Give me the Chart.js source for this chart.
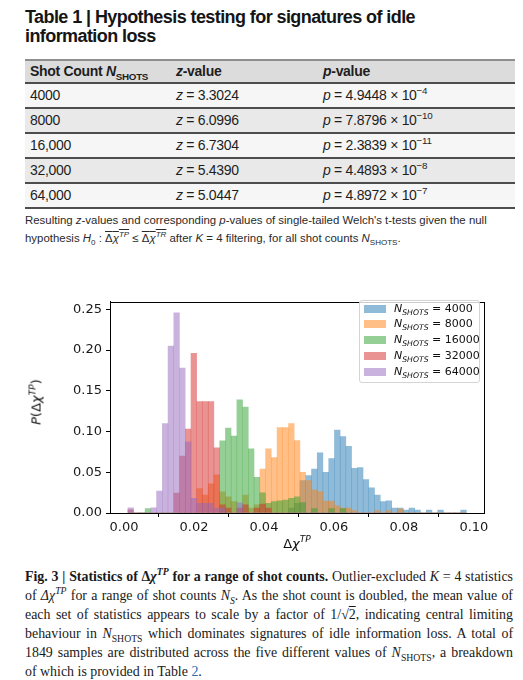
<!DOCTYPE html>
<html>
<head>
<meta charset="utf-8">
<script src="https://cdn.jsdelivr.net/npm/chart.js@4.4.1/dist/chart.umd.min.js"></script>
<style>
html,body{margin:0;padding:0;background:#fff;}
body{width:523px;height:680px;position:relative;overflow:hidden;font-family:"Liberation Sans",Arial,sans-serif;color:#1a1a1a;}
.abs{position:absolute;}
sub,sup{line-height:0;font-size:70%;}
#title{left:25px;top:8px;font-weight:bold;line-height:18.6px;color:#151515;font-size:18px;white-space:nowrap;}
#tbl{left:25px;top:59px;width:490px;height:150px;font-size:14px;letter-spacing:-0.3px;color:#1e1e1e;}
#tbl .bg{position:absolute;left:0;width:490px;}
#tbl .ln{position:absolute;left:0;width:490px;height:1.5px;background:#4d4d4d;}
#tbl .cell{position:absolute;white-space:nowrap;}
#foot{left:25px;top:211px;line-height:18px;color:#2a2a2a;white-space:nowrap;}
#chartBox{left:0;top:290px;width:523px;height:260px;}
#legend{left:359px;top:300px;width:119px;height:81px;border:1px solid #d4d4d4;border-radius:3px;background:rgba(255,255,255,0.8);font-family:"DejaVu Sans";font-size:11px;color:#111;}
#legend .it{position:absolute;left:0;height:16px;width:119px;}
#legend .sw{position:absolute;left:4px;top:4px;width:22px;height:8px;}
#legend .tx{position:absolute;left:34px;top:0;line-height:16px;white-space:nowrap;}
.mt{font-family:"DejaVu Sans";font-size:13px;color:#111;white-space:nowrap;}
#caption{left:25px;top:567px;width:488px;font-family:"Liberation Serif","Times New Roman",serif;color:#1a1a1a;}
#caption .cl{line-height:19px;height:19px;text-align:justify;text-align-last:justify;}
#caption .cl.last{text-align-last:left;}
.ov{text-decoration:overline;}
</style>
</head>
<body>
<div id="title" class="abs">
  <div><span id="t1">Table 1 | Hypothesis testing for signatures of idle</span></div>
  <div><span id="t2">information loss</span></div>
</div>
<div id="tbl" class="abs"></div>
<div id="foot" class="abs">
  <div><span id="f1">Resulting <i>z</i>-values and corresponding <i>p</i>-values of single-tailed Welch's t-tests given the null</span></div>
  <div><span id="f2">hypothesis <i>H</i><sub>0</sub> : <span class="ov">Δ<i>χ</i><sup><i>TP</i></sup></span> ≤ <span class="ov">Δ<i>χ</i><sup><i>TR</i></sup></span> after <i>K</i> = 4 filtering, for all shot counts <i>N</i><sub>SHOTS</sub>.</span></div>
</div>
<div id="chartBox" class="abs"><canvas id="c"></canvas></div>
<div id="legend" class="abs"></div>
<div id="ytitle" class="abs mt" style="left:36px;top:402px;transform:translate(-50%,-50%) rotate(-90deg);"><i>P</i>(Δ<i>χ</i><sup><i>TP</i></sup>)</div>
<div id="xtitle" class="abs mt" style="left:297px;top:543px;transform:translate(-50%,-50%);">Δ<i>χ</i><sup><i>TP</i></sup></div>
<div id="caption" class="abs">
  <div class="cl"><b>Fig. 3 | Statistics of Δ<i>χ</i><sup><i>TP</i></sup> for a range of shot counts.</b> Outlier-excluded <i>K</i> = 4 statistics</div>
  <div class="cl">of <i>Δχ</i><sup><i>TP</i></sup> for a range of shot counts <i>N<sub>S</sub></i>. As the shot count is doubled, the mean value of</div>
  <div class="cl">each set of statistics appears to scale by a factor of 1/√<span class="ov">2</span>, indicating central limiting</div>
  <div class="cl">behaviour in <i>N</i><sub>SHOTS</sub> which dominates signatures of idle information loss. A total of</div>
  <div class="cl">1849 samples are distributed across the five different values of <i>N</i><sub>SHOTS</sub>, a breakdown</div>
  <div class="cl last">of which is provided in Table <span style="color:#2a6db0">2</span>.</div>
</div>
<script>
// ---------------- Table data ----------------
const shotLabels = ['4000', '8000', '16,000', '32,000', '64,000'];
const zValues = ['3.3024', '6.0996', '6.7304', '5.4390', '5.0447'];
const pMantissas = ['4.9448', '7.8796', '2.3839', '4.4893', '4.8972'];
const pExponents = ['−4', '−10', '−11', '−8', '−7'];

// ---------------- Histogram data ----------------
const shotCounts = ['4000', '8000', '16000', '32000', '64000'];
const binStart = 0.0011;
const binWidth = 0.00164;
const p4000 = [
  0,0,0,0,0,0,0,0,0,0,
  0,0,0,0,0,0,0,0,0,0,
  0,0,0,0,0,0,0,0,0.006,0.012,
  0.040,0.046,0.054,0.074,0.050,0.067,0.102,0.094,0.082,0.055,
  0.056,0.041,0.031,0.022,0.014,0.015,0.006,0.006,0.0036,0.006,
  0.0036,0,0.0036,0,0.0036,0,0,0,0.0036
];
const p8000 = [
  0,0,0,0,0,0,0,0,0,0,
  0,0,0.030,0.022,0.036,0.047,0.026,0.020,0.014,0,
  0.022,0.006,0.010,0.054,0.079,0.068,0.105,0.105,0.110,0.089,
  0.050,0.040,0.0285,0.0265,0.0146,0.0146,0.009,0.006,0.006,0.003,
  0,0,0,0.003,0,0.003,0,0.005,0,0,
  0,0,0,0,0,0,0,0,0
];
const p16000 = [
  0,0,0,0.0055,0,0,0,0,0,0,
  0,0,0,0,0,0,0.0887,0.1045,0.0946,0.139,
  0.130,0.079,0.044,0.025,0.012,0.014,0.015,0.016,0.018,0.020,
  0.013,0,0.0055,0,0,0.0055,0,0.0055,0,0,
  0,0,0,0,0,0,0,0,0,0,
  0,0,0,0,0,0,0,0,0
];
const p32000 = [
  0.004,0,0,0,0,0,0,0,0.0245,0.070,
  0.103,0.196,0.137,0.137,0.137,0.080,0.010,0.006,0,0.006,
  0.010,0,0.006,0.011,0.006,0,0,0,0,0,
  0,0,0,0,0,0,0,0,0,0,
  0,0,0,0,0,0,0,0,0,0,
  0,0,0,0,0,0,0,0,0
];
const p64000 = [
  0.0063,0,0,0,0.0063,0.027,0.110,0.205,0.246,0.178,
  0.0875,0.018,0.012,0.012,0.012,0.006,0.006,0,0,0.0126,
  0,0,0,0,0,0,0,0,0,0,
  0,0,0,0,0,0,0,0,0,0,
  0,0,0,0,0,0,0,0,0,0,
  0,0,0,0,0,0,0,0,0
];
const xTickValues = [0.00, 0.02, 0.04, 0.06, 0.08, 0.10];
const yTickValues = [0.00, 0.05, 0.10, 0.15, 0.20, 0.25];

const seriesValues = [p4000, p8000, p16000, p32000, p64000];
const seriesColors = ['rgba(31,119,180,0.5)', 'rgba(255,127,14,0.5)', 'rgba(44,160,44,0.5)', 'rgba(214,39,40,0.5)', 'rgba(148,103,189,0.5)'];

// ---------------- Build table ----------------
(function buildTable() {
  const t = document.getElementById('tbl');
  let html = '';
  html += '<div class="bg" style="top:0;height:2px;background:#8e8e8e"></div>';
  html += '<div class="bg" style="top:2px;height:21px;background:#dcdcdc"></div>';
  const colX = [5, 151, 298];
  const hdr = ['Shot Count <i>N</i><sub>SHOTS</sub>', '<i>z</i>-value', '<i>p</i>-value'];
  hdr.forEach((h, j) => {
    html += '<div class="cell" style="left:' + colX[j] + 'px;top:2px;line-height:21px;font-weight:bold">' + h + '</div>';
  });
  const rowBg = ['#f6f6f6', '#e9e9e9', '#f6f6f6', '#e9e9e9', '#f6f6f6'];
  for (let i = 0; i < shotLabels.length; i++) {
    const top = 23 + 25 * i;
    html += '<div class="ln" style="top:' + top + 'px"></div>';
    html += '<div class="bg" style="top:' + (top + 1.5) + 'px;height:23.5px;background:' + rowBg[i] + '"></div>';
    const cells = [shotLabels[i], '<i>z</i> = ' + zValues[i], '<i>p</i> = ' + pMantissas[i] + ' × 10<sup>' + pExponents[i] + '</sup>'];
    cells.forEach((c, j) => {
      html += '<div class="cell" style="left:' + colX[j] + 'px;top:' + (top + 1.5) + 'px;line-height:23.5px">' + c + '</div>';
    });
  }
  html += '<div class="ln" style="top:' + (23 + 25 * shotLabels.length) + 'px"></div>';
  t.innerHTML = html;
})();

// ---------------- Text fitting ----------------
function natW(el) { return el.getBoundingClientRect().width; }
(function fitTexts() {
  const t1 = document.getElementById('t1');
  const n1 = t1.textContent.length;
  const ls = (390 - natW(t1)) / n1;
  document.getElementById('title').style.letterSpacing = ls + 'px';
  const foot = document.getElementById('foot');
  foot.style.fontSize = '11px';
  const f1 = document.getElementById('f1');
  foot.style.fontSize = (11 * 462 / natW(f1)) + 'px';
  const cap = document.getElementById('caption');
  const lines = Array.from(cap.querySelectorAll('.cl'));
  cap.style.fontSize = '14px';
  const spans = lines.map(l => { const s = document.createElement('span'); s.style.whiteSpace = 'nowrap'; while (l.firstChild) s.appendChild(l.firstChild); l.appendChild(s); return s; });
  const maxW = Math.max.apply(null, spans.map(natW));
  cap.style.fontSize = (14 * 485 / maxW) + 'px';
  spans.forEach(s => { s.style.whiteSpace = 'normal'; });
})();

// ---------------- Legend ----------------
(function buildLegend() {
  const lg = document.getElementById('legend');
  const centers = [9, 24.3, 40, 55.7, 71.7];
  let html = '';
  shotCounts.forEach((s, i) => {
    html += '<div class="it" style="top:' + (centers[i] - 8 - 1) + 'px"><div class="sw" style="background:' + seriesColors[i] + '"></div>' +
      '<div class="tx"><i>N</i><sub><i>SHOTS</i></sub> = ' + s + '</div></div>';
  });
  lg.innerHTML = html;
})();

// ---------------- Chart ----------------
const binCenters = p4000.map((_, k) => binStart + (k + 0.5) * binWidth);
const datasets = seriesValues.map((vals, i) => ({
  label: 'N_SHOTS = ' + shotCounts[i],
  data: vals.map((v, k) => ({ x: binCenters[k], y: v })),
  backgroundColor: seriesColors[i],
  borderWidth: 0,
  order: seriesValues.length - 1 - i
}));

const framePlugin = {
  id: 'frame',
  afterDraw(chart) {
    const { ctx, chartArea: a } = chart;
    ctx.save();
    ctx.strokeStyle = '#000';
    ctx.lineWidth = 1;
    ctx.strokeRect(Math.round(a.left) + 0.5, Math.round(a.top) + 0.5, Math.round(a.right - a.left), Math.round(a.bottom - a.top));
    ctx.restore();
  }
};

Chart.defaults.font.family = 'DejaVu Sans';
new Chart(document.getElementById('c'), {
  type: 'bar',
  data: { datasets },
  options: {
    responsive: true,
    maintainAspectRatio: false,
    animation: false,
    events: [],
    datasets: {
      bar: { grouped: false, barPercentage: 1, categoryPercentage: 1, inflateAmount: 0.25, borderWidth: 0 }
    },
    layout: { padding: { top: 5, right: 39, bottom: 0, left: 0 } },
    plugins: { legend: { display: false }, tooltip: { enabled: false } },
    scales: {
      x: {
        type: 'linear',
        min: -0.004,
        max: 0.1029,
        offset: false,
        afterBuildTicks: s => { s.ticks = xTickValues.map(v => ({ value: v })); },
        afterFit: s => { s.height = 37; },
        ticks: { callback: v => v.toFixed(2), font: { size: 13 }, color: '#1a1a1a', padding: 3, maxRotation: 0, autoSkip: false },
        grid: { drawOnChartArea: false, drawTicks: true, tickLength: 4, tickColor: '#000', tickWidth: 1 },
        border: { display: true, color: '#000', width: 1 }
      },
      y: {
        type: 'linear',
        min: 0,
        max: 0.2593,
        afterBuildTicks: s => { s.ticks = yTickValues.map(v => ({ value: v })); },
        afterFit: s => { s.width = 110; },
        ticks: { callback: v => v.toFixed(2), font: { size: 13 }, color: '#1a1a1a', padding: 4 },
        grid: { drawOnChartArea: false, drawTicks: true, tickLength: 4, tickColor: '#000', tickWidth: 1 },
        border: { display: true, color: '#000', width: 1 }
      }
    }
  },
  plugins: [framePlugin]
});
</script>
</body>
</html>
